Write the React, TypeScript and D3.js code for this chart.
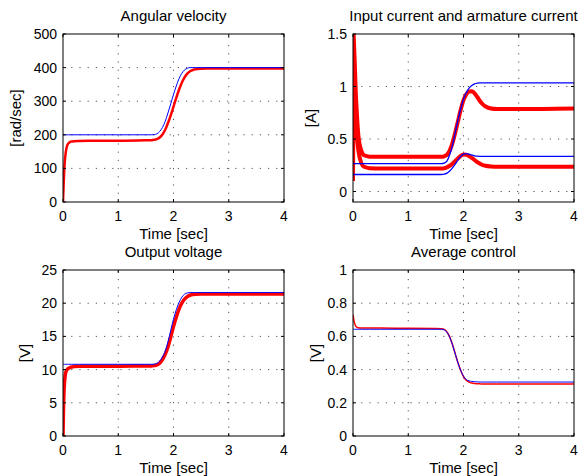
import React, { useEffect, useRef } from "react";
import * as d3 from "d3";

// sample times [sec] shared by every trace
const time = [0, 0.01, 0.02, 0.03, 0.05, 0.075, 0.1, 0.15, 0.2, 0.3, 0.5, 1, 1.5, 1.6, 1.65, 1.7, 1.75, 1.8, 1.85, 1.9, 1.95, 2, 2.05, 2.1, 2.15, 2.2, 2.25, 2.3, 2.35, 2.4, 2.5, 2.6, 3, 4];

// angular velocity [rad/sec]
const velRef = [200, 200, 200, 200, 200, 200, 200, 200, 200, 200, 200, 200, 200, 200, 200.5, 203, 210, 222, 240, 265, 292, 320, 345, 367, 383, 393, 398, 400, 400, 400, 400, 400, 400, 400];
const velMeas = [0, 45, 85, 115, 148, 168, 175, 180, 181, 181.5, 182, 182.5, 183.5, 184, 185, 187, 192, 201, 215, 235, 258, 284, 310, 334, 355, 371, 382, 389, 393, 395, 396.5, 397, 397, 397];

// input current / armature current [A]
const inRef = [0.265, 0.265, 0.265, 0.265, 0.265, 0.265, 0.265, 0.265, 0.265, 0.265, 0.265, 0.265, 0.265, 0.265, 0.27, 0.29, 0.35, 0.44, 0.56, 0.68, 0.79, 0.88, 0.94, 0.985, 1.01, 1.025, 1.032, 1.035, 1.035, 1.035, 1.035, 1.035, 1.035, 1.035];
const inMeas = [0.1, 1.5, 1.38, 1.25, 0.95, 0.7, 0.52, 0.39, 0.345, 0.332, 0.33, 0.33, 0.33, 0.33, 0.335, 0.35, 0.39, 0.46, 0.56, 0.67, 0.78, 0.87, 0.925, 0.952, 0.955, 0.935, 0.9, 0.86, 0.83, 0.81, 0.79, 0.785, 0.785, 0.79];
const armRef = [0.162, 0.162, 0.162, 0.162, 0.162, 0.162, 0.162, 0.162, 0.162, 0.162, 0.162, 0.162, 0.162, 0.162, 0.165, 0.175, 0.195, 0.225, 0.26, 0.3, 0.335, 0.355, 0.36, 0.355, 0.347, 0.34, 0.336, 0.335, 0.335, 0.335, 0.335, 0.335, 0.335, 0.335];
const armMeas = [0.1, 0.93, 0.9, 0.85, 0.68, 0.5, 0.38, 0.27, 0.235, 0.222, 0.22, 0.22, 0.22, 0.22, 0.222, 0.23, 0.245, 0.265, 0.29, 0.315, 0.34, 0.352, 0.35, 0.338, 0.32, 0.3, 0.28, 0.265, 0.252, 0.245, 0.238, 0.235, 0.235, 0.235];

// output voltage [V]
const voltRef = [10.8, 10.8, 10.8, 10.8, 10.8, 10.8, 10.8, 10.8, 10.8, 10.8, 10.8, 10.8, 10.8, 10.8, 10.82, 10.95, 11.3, 11.9, 12.8, 14.2, 15.9, 17.6, 19.0, 20.1, 20.9, 21.35, 21.55, 21.6, 21.6, 21.6, 21.6, 21.6, 21.6, 21.6];
const voltMeas = [0, 4.5, 7, 8.3, 9.6, 10.0, 10.2, 10.4, 10.45, 10.5, 10.5, 10.5, 10.55, 10.55, 10.6, 10.7, 10.95, 11.5, 12.3, 13.4, 14.9, 16.5, 17.9, 19.1, 20.0, 20.6, 21.0, 21.2, 21.3, 21.35, 21.4, 21.4, 21.4, 21.4];

// average control
const ctrlRef = [0.643, 0.643, 0.643, 0.643, 0.643, 0.643, 0.643, 0.643, 0.643, 0.643, 0.643, 0.643, 0.643, 0.643, 0.64, 0.625, 0.595, 0.55, 0.495, 0.44, 0.395, 0.36, 0.34, 0.332, 0.329, 0.327, 0.326, 0.325, 0.325, 0.325, 0.325, 0.325, 0.325, 0.325];
const ctrlMeas = [0.73, 0.71, 0.69, 0.678, 0.662, 0.655, 0.652, 0.65, 0.65, 0.65, 0.65, 0.649, 0.648, 0.646, 0.642, 0.627, 0.597, 0.551, 0.496, 0.441, 0.395, 0.358, 0.336, 0.325, 0.319, 0.316, 0.315, 0.314, 0.313, 0.313, 0.313, 0.313, 0.313, 0.313];

// tick values
const xTicks = [0, 1, 2, 3, 4];
const velTicks = [0, 100, 200, 300, 400, 500];
const curTicks = [0, 0.5, 1, 1.5];
const voltTicks = [0, 5, 10, 15, 20, 25];
const ctrlTicks = [0, 0.2, 0.4, 0.6, 0.8, 1];

const panels = [
  { title: "Angular velocity", ylabel: "[rad/sec]", yDomain: [0, 500], yTicks: velTicks, meas: [velMeas], refs: [velRef], left: 63, right: 284, top: 34, bottom: 202, labelX: 16, redW: 2.5 },
  { title: "Input current and armature current", ylabel: "[A]", yDomain: [-0.1, 1.5], yTicks: curTicks, meas: [inMeas, armMeas], refs: [inRef, armRef], left: 353, right: 574, top: 34, bottom: 202, labelX: 311, redW: 4 },
  { title: "Output voltage", ylabel: "[V]", yDomain: [0, 25], yTicks: voltTicks, meas: [voltMeas], refs: [voltRef], left: 63, right: 284, top: 270, bottom: 436, labelX: 25, redW: 3.5 },
  { title: "Average control", ylabel: "[V]", yDomain: [0, 1], yTicks: ctrlTicks, meas: [ctrlMeas], refs: [ctrlRef], left: 353, right: 574, top: 270, bottom: 436, labelX: 316, redW: 1.5 },
];

const font = "'Liberation Sans', Arial, Helvetica, sans-serif";

export default function App() {
  const svgRef = useRef<SVGSVGElement>(null);

  useEffect(() => {
    const svg = d3.select(svgRef.current);
    svg.selectAll("*").remove();

    panels.forEach((p, i) => {
      const g = svg.append("g");
      const x = d3.scaleLinear().domain([0, 4]).range([p.left, p.right]);
      const y = d3.scaleLinear().domain(p.yDomain).range([p.bottom, p.top]);

      // dotted grid
      const grid = g.append("g").attr("stroke", "#555").attr("stroke-width", 1).attr("stroke-dasharray", "1.2,7");
      xTicks.slice(1, -1).forEach((t) => {
        grid.append("line").attr("x1", x(t)).attr("x2", x(t)).attr("y1", p.bottom).attr("y2", p.top);
      });
      p.yTicks.filter((v) => v > p.yDomain[0] && v < p.yDomain[1]).forEach((v) => {
        grid.append("line").attr("x1", p.left).attr("x2", p.right).attr("y1", y(v)).attr("y2", y(v));
      });

      svg.append("clipPath").attr("id", "clip" + i)
        .append("rect").attr("x", p.left).attr("y", p.top)
        .attr("width", p.right - p.left).attr("height", p.bottom - p.top);

      const line = d3.line<number>()
        .x((d, j) => x(time[j]))
        .y((d) => y(d))
        .curve(d3.curveMonotoneX);

      const traces = g.append("g").attr("clip-path", `url(#clip${i})`).attr("fill", "none");
      p.meas.forEach((s) => {
        traces.append("path").attr("d", line(s)).attr("stroke", "#ff0000").attr("stroke-width", p.redW);
      });
      p.refs.forEach((s) => {
        traces.append("path").attr("d", line(s)).attr("stroke", "#0000ff").attr("stroke-width", i === 1 ? 1.3 : 1);
      });

      // box + inward ticks
      g.append("rect").attr("x", p.left).attr("y", p.top)
        .attr("width", p.right - p.left).attr("height", p.bottom - p.top)
        .attr("fill", "none").attr("stroke", "#000").attr("stroke-width", 1);
      xTicks.forEach((t) => {
        g.append("line").attr("x1", x(t)).attr("x2", x(t)).attr("y1", p.bottom).attr("y2", p.bottom - 3).attr("stroke", "#000");
        g.append("line").attr("x1", x(t)).attr("x2", x(t)).attr("y1", p.top).attr("y2", p.top + 3).attr("stroke", "#000");
        g.append("text").attr("x", x(t)).attr("y", p.bottom + 19)
          .attr("text-anchor", "middle").style("font", `14px ${font}`).text(t);
      });
      p.yTicks.forEach((v) => {
        g.append("line").attr("x1", p.left).attr("x2", p.left + 3).attr("y1", y(v)).attr("y2", y(v)).attr("stroke", "#000");
        g.append("line").attr("x1", p.right).attr("x2", p.right - 3).attr("y1", y(v)).attr("y2", y(v)).attr("stroke", "#000");
        g.append("text").attr("x", p.left - 6).attr("y", y(v)).attr("dy", "0.36em")
          .attr("text-anchor", "end").style("font", `14px ${font}`).text(String(v));
      });

      g.append("text").attr("x", (p.left + p.right) / 2).attr("y", p.top - 13)
        .attr("text-anchor", "middle").style("font", `15px ${font}`).text(p.title);
      g.append("text").attr("x", (p.left + p.right) / 2).attr("y", p.bottom + 37)
        .attr("text-anchor", "middle").style("font", `15px ${font}`).text("Time [sec]");
      g.append("text")
        .attr("transform", `translate(${p.labelX},${(p.top + p.bottom) / 2}) rotate(-90)`)
        .attr("dy", "0.36em").attr("text-anchor", "middle")
        .style("font", `15px ${font}`).text(p.ylabel);
    });
  }, []);

  return (
    <svg ref={svgRef} width={585} height={476}
      style={{ position: "absolute", left: 0, top: 0, background: "#fff" }} />
  );
}
